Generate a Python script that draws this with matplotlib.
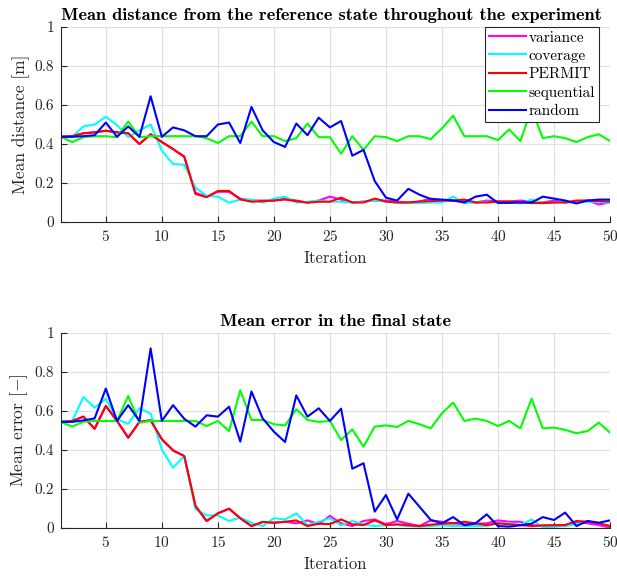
import numpy as np
import matplotlib
matplotlib.use("Agg")
import matplotlib.pyplot as plt

iterations = list(range(1, 51))

# Top: mean distance [m]
dist_variance = [0.437, 0.44, 0.455, 0.46, 0.468, 0.46, 0.455, 0.40, 0.45, 0.41,
                 0.374, 0.335, 0.15, 0.13, 0.155, 0.155, 0.12, 0.11, 0.11, 0.11,
                 0.12, 0.11, 0.10, 0.11, 0.13, 0.115, 0.10, 0.105, 0.11, 0.11,
                 0.105, 0.10, 0.105, 0.12, 0.11, 0.11, 0.11, 0.10, 0.11, 0.105,
                 0.105, 0.11, 0.105, 0.10, 0.11, 0.10, 0.105, 0.11, 0.09, 0.10]
dist_coverage = [0.437, 0.437, 0.49, 0.50, 0.54, 0.497, 0.435, 0.47, 0.50, 0.366,
                 0.297, 0.294, 0.176, 0.135, 0.13, 0.099, 0.115, 0.115, 0.10, 0.12,
                 0.13, 0.10, 0.104, 0.11, 0.104, 0.104, 0.10, 0.104, 0.11, 0.104,
                 0.10, 0.097, 0.097, 0.10, 0.10, 0.13, 0.097, 0.10, 0.104, 0.10,
                 0.104, 0.095, 0.115, 0.097, 0.10, 0.104, 0.10, 0.104, 0.104, 0.097]
dist_permit = [0.437, 0.44, 0.455, 0.46, 0.468, 0.46, 0.455, 0.40, 0.45, 0.41,
               0.374, 0.335, 0.144, 0.127, 0.159, 0.159, 0.116, 0.104, 0.107, 0.11,
               0.115, 0.107, 0.099, 0.104, 0.104, 0.125, 0.10, 0.10, 0.12, 0.105,
               0.10, 0.10, 0.105, 0.107, 0.11, 0.11, 0.115, 0.10, 0.10, 0.105,
               0.105, 0.102, 0.097, 0.097, 0.10, 0.10, 0.11, 0.11, 0.107, 0.105]
dist_sequential = [0.437, 0.41, 0.435, 0.44, 0.44, 0.435, 0.515, 0.435, 0.44, 0.44,
                   0.44, 0.44, 0.44, 0.43, 0.405, 0.44, 0.44, 0.515, 0.44, 0.44,
                   0.415, 0.43, 0.505, 0.435, 0.435, 0.35, 0.44, 0.37, 0.44, 0.435,
                   0.415, 0.44, 0.44, 0.425, 0.48, 0.545, 0.44, 0.44, 0.44, 0.42,
                   0.475, 0.415, 0.58, 0.43, 0.44, 0.43, 0.41, 0.435, 0.45, 0.415]
dist_random = [0.437, 0.437, 0.44, 0.445, 0.51, 0.437, 0.49, 0.437, 0.645, 0.437,
               0.485, 0.47, 0.44, 0.44, 0.50, 0.51, 0.405, 0.59, 0.47, 0.41,
               0.385, 0.505, 0.445, 0.535, 0.485, 0.518, 0.34, 0.37, 0.21, 0.125,
               0.11, 0.17, 0.14, 0.118, 0.115, 0.11, 0.10, 0.13, 0.14, 0.098,
               0.098, 0.10, 0.10, 0.13, 0.12, 0.11, 0.095, 0.11, 0.115, 0.115]

# Bottom: mean error [-]
err_variance = [0.544, 0.549, 0.571, 0.509, 0.626, 0.549, 0.463, 0.544, 0.552, 0.455,
                0.398, 0.369, 0.113, 0.036, 0.075, 0.099, 0.05, 0.01, 0.031, 0.027,
                0.032, 0.024, 0.039, 0.02, 0.062, 0.024, 0.01, 0.036, 0.044, 0.019,
                0.036, 0.022, 0.01, 0.039, 0.032, 0.024, 0.019, 0.022, 0.024, 0.039,
                0.032, 0.032, 0.014, 0.01, 0.014, 0.015, 0.03, 0.024, 0.015, 0.002]
err_coverage = [0.549, 0.549, 0.672, 0.617, 0.663, 0.557, 0.535, 0.614, 0.586, 0.403,
                0.309, 0.369, 0.096, 0.065, 0.065, 0.036, 0.053, 0.027, 0.01, 0.05,
                0.044, 0.075, 0.015, 0.032, 0.05, 0.014, 0.036, 0.019, 0.01, 0.015,
                0.015, 0.01, 0.007, 0.01, 0.014, 0.01, 0.01, 0.01, 0.01, 0.024,
                0.024, 0.015, 0.044, 0.002, 0.007, 0.01, 0.019, 0.036, 0.024, 0.01]
err_permit = [0.544, 0.549, 0.571, 0.509, 0.626, 0.549, 0.463, 0.544, 0.552, 0.455,
              0.398, 0.369, 0.113, 0.036, 0.075, 0.099, 0.05, 0.01, 0.031, 0.027,
              0.032, 0.039, 0.01, 0.022, 0.02, 0.044, 0.019, 0.015, 0.039, 0.015,
              0.019, 0.014, 0.01, 0.017, 0.022, 0.024, 0.032, 0.024, 0.015, 0.024,
              0.019, 0.015, 0.01, 0.014, 0.014, 0.015, 0.036, 0.032, 0.024, 0.01]
err_sequential = [0.544, 0.52, 0.545, 0.549, 0.549, 0.549, 0.677, 0.54, 0.549, 0.549,
                  0.549, 0.549, 0.549, 0.523, 0.549, 0.497, 0.706, 0.554, 0.554, 0.532,
                  0.526, 0.609, 0.554, 0.544, 0.549, 0.451, 0.506, 0.417, 0.52, 0.526,
                  0.518, 0.549, 0.532, 0.511, 0.588, 0.643, 0.549, 0.561, 0.549, 0.523,
                  0.549, 0.511, 0.663, 0.511, 0.515, 0.503, 0.486, 0.497, 0.54, 0.489]
err_random = [0.544, 0.544, 0.552, 0.562, 0.715, 0.549, 0.63, 0.549, 0.921, 0.549,
              0.63, 0.56, 0.52, 0.578, 0.571, 0.622, 0.443, 0.70, 0.562, 0.494,
              0.441, 0.68, 0.571, 0.614, 0.549, 0.612, 0.304, 0.332, 0.084, 0.169,
              0.044, 0.176, 0.109, 0.041, 0.024, 0.056, 0.014, 0.024, 0.07, 0.01,
              0.007, 0.014, 0.022, 0.056, 0.041, 0.079, 0.01, 0.036, 0.027, 0.039]

series_names = ["variance", "coverage", "PERMIT", "sequential", "random"]
series_colors = ["#FF00FF", "#00FFFF", "#FF0000", "#00FF00", "#0000FF"]

x_ticks = [5, 10, 15, 20, 25, 30, 35, 40, 45, 50]
y_ticks = [0, 0.2, 0.4, 0.6, 0.8, 1]
y_ticklabels = ["0", "0.2", "0.4", "0.6", "0.8", "1"]

plt.rcParams['font.family'] = ['cmr10', 'DejaVu Serif']
plt.rcParams['mathtext.fontset'] = 'cm'
plt.rcParams['axes.formatter.use_mathtext'] = True

fig = plt.figure(figsize=(6.17, 5.76), dpi=100)
ax1 = fig.add_axes([61/617, 1-222/576, 549/617, 195/576])
ax2 = fig.add_axes([61/617, 1-528/576, 549/617, 195/576])

def style(ax, title, ylabel):
    ax.set_xlim(1, 50)
    ax.set_ylim(0, 1)
    ax.set_xticks(x_ticks)
    ax.set_yticks(y_ticks)
    ax.set_yticklabels(y_ticklabels)
    ax.grid(True, color='#DFDFDF', linewidth=0.8)
    ax.set_axisbelow(True)
    for s in ['top', 'right']:
        ax.spines[s].set_visible(False)
    for s in ['left', 'bottom']:
        ax.spines[s].set_color('#262626')
        ax.spines[s].set_linewidth(0.8)
    ax.tick_params(direction='in', length=4, width=0.8, color='#262626',
                   labelsize=11, labelcolor='#262626', pad=5)
    ax.set_title(title, fontfamily='cmb10', fontsize=13.2, color='black', pad=5)
    ax.set_ylabel(ylabel, fontsize=12.5, color='#262626', labelpad=3)
    ax.set_xlabel("Iteration", fontsize=12, color='#262626', labelpad=5)

dist_series = [dist_variance, dist_coverage, dist_permit, dist_sequential, dist_random]
err_series = [err_variance, err_coverage, err_permit, err_sequential, err_random]

for vals, name, col in zip(dist_series, series_names, series_colors):
    ax1.plot(iterations, vals, color=col, linewidth=1.5, label=name)
for vals, name, col in zip(err_series, series_names, series_colors):
    ax2.plot(iterations, vals, color=col, linewidth=1.5, label=name)

style(ax1, "Mean distance from the reference state throughout the experiment", "Mean distance [m]")
style(ax2, "Mean error in the final state", r"Mean error [$-$]")
ax1.title.set_x(0.492)

leg = ax1.legend(loc='upper right', bbox_to_anchor=(0.98, 1.0), fontsize=11, frameon=True,
                 fancybox=False, edgecolor='#262626', framealpha=1, borderpad=0.25,
                 labelspacing=0.3, handlelength=2.4, handletextpad=0.2, borderaxespad=0.0)
leg.get_frame().set_linewidth(0.8)

fig.savefig("out.png", dpi=100)
